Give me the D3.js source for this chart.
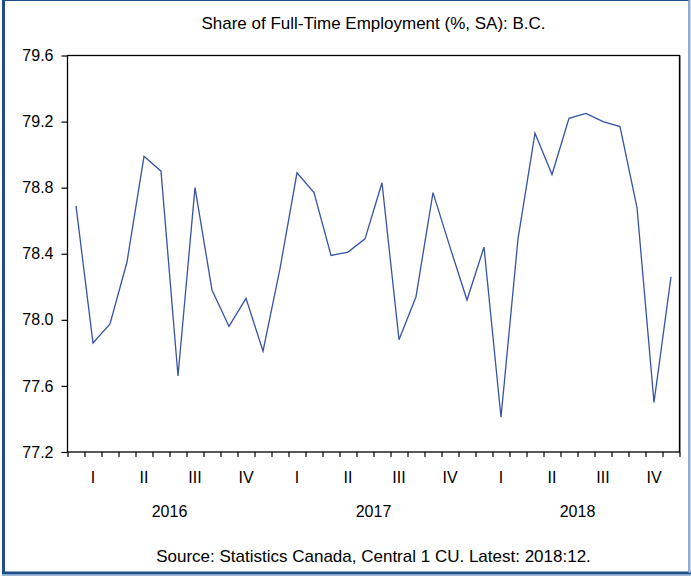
<!DOCTYPE html>
<html><head><meta charset="utf-8">
<script src="https://cdn.jsdelivr.net/npm/d3@7"></script>
<style>body{margin:0;background:#fff}svg{display:block}text{font-family:"Liberation Sans",Arial,sans-serif;fill:#000}</style>
</head><body>
<svg id="c" width="691" height="579"></svg>
<script>
const title = "Share of Full-Time Employment (%, SA): B.C.";
const source = "Source: Statistics Canada, Central 1 CU. Latest: 2018:12.";
const years = ["2016","2017","2018"];
const quarters = ["I","II","III","IV"];
const yTicks = [77.2,77.6,78.0,78.4,78.8,79.2,79.6];
const values = [78.69,77.86,77.975,78.35,78.99,78.90,77.66,78.80,78.18,77.96,78.13,77.81,
                78.31,78.89,78.77,78.39,78.41,78.49,78.83,77.88,78.14,78.77,78.44,78.12,
                78.44,77.41,78.49,79.13,78.88,79.22,79.25,79.20,79.17,78.68,77.50,78.26];

const svg = d3.select("#c");
const L=67.5, R=679.5, T=55.5, B=452;
const x = d3.scaleLinear().domain([-0.5, values.length-0.5]).range([L,R]);
const y = d3.scaleLinear().domain([77.2,79.6]).range([B,T]);

// outer frame
svg.append("rect").attr("x",3).attr("y",0.5).attr("width",686).attr("height",572.5)
  .attr("fill","none").attr("stroke","#1f4e8c").attr("stroke-width",1);
svg.append("line").attr("x1",3.5).attr("x2",3.5).attr("y1",0).attr("y2",574).attr("stroke","#1f4e8c").attr("stroke-width",3);
svg.append("line").attr("x1",2).attr("x2",691).attr("y1",573).attr("y2",573).attr("stroke","#1f4e8c").attr("stroke-width",3);
svg.append("line").attr("x1",2).attr("x2",691).attr("y1",575.5).attr("y2",575.5).attr("stroke","#9db8d8").attr("stroke-width",1);
svg.append("line").attr("x1",689.5).attr("x2",689.5).attr("y1",0).attr("y2",573).attr("stroke","#8fb0d6").attr("stroke-width",2);

// title
svg.append("text").attr("x",(L+R)/2).attr("y",29).attr("text-anchor","middle").attr("font-size",17).text(title);

// plot frame
svg.append("rect").attr("x",L).attr("y",T).attr("width",R-L).attr("height",B-T)
  .attr("fill","none").attr("stroke","#000").attr("stroke-width",1.3);
svg.append("line").attr("x1",R+1).attr("x2",R+1).attr("y1",T).attr("y2",B).attr("stroke","#888").attr("stroke-width",1);

// y axis
const ya = svg.append("g").attr("transform",`translate(${L},0)`)
  .call(d3.axisLeft(y).tickValues(yTicks).tickFormat(d3.format(".1f")).tickSize(6).tickPadding(8));
ya.select(".domain").remove();
ya.selectAll("line").attr("stroke","#000").attr("stroke-width",1.2);
ya.selectAll("text").attr("font-size",16).attr("font-family",'"Liberation Sans",Arial,sans-serif');

// x axis month ticks
const bounds = d3.range(values.length+1).map(i=>i-0.5);
const xa = svg.append("g").attr("transform",`translate(0,${B})`)
  .call(d3.axisBottom(x).tickValues(bounds).tickFormat("").tickSize(5));
xa.select(".domain").remove();
xa.selectAll("line").attr("stroke","#000").attr("stroke-width",1.2);

// quarter labels
const qData = [];
years.forEach((yr,yi)=>quarters.forEach((q,qi)=>qData.push({q, m: yi*12+qi*3+1})));
svg.append("g").selectAll("text").data(qData).join("text")
  .attr("x",d=>x(d.m)).attr("y",483).attr("text-anchor","middle").attr("font-size",16).text(d=>d.q);
svg.append("g").selectAll("text").data(years).join("text")
  .attr("x",(d,i)=>x(i*12+5.5)).attr("y",517).attr("text-anchor","middle").attr("font-size",16).text(d=>d);

// line
svg.append("path").datum(values)
  .attr("d", d3.line().x((d,i)=>x(i)).y(d=>y(d)))
  .attr("fill","none").attr("stroke","#3653a6").attr("stroke-width",1.3);

// source
svg.append("text").attr("x",(L+R)/2).attr("y",562).attr("text-anchor","middle").attr("font-size",17).text(source);
</script>
</body></html>
